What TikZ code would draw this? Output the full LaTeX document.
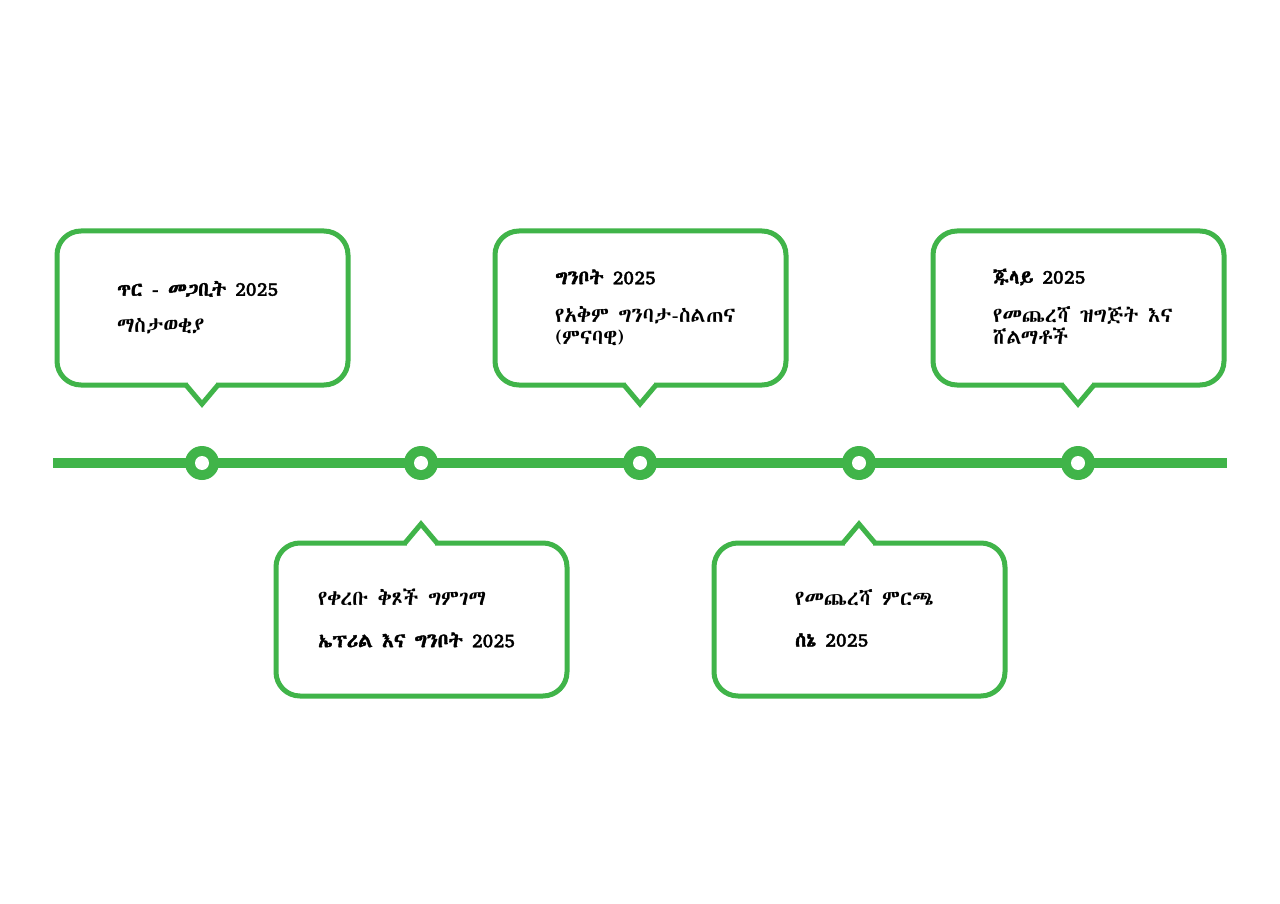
\documentclass[tikz,border=0pt]{standalone}
\usepackage{fontspec}
\IfFontExistsTF{Abyssinica SIL}{\newfontfamily\eth[AutoFakeBold=2]{Abyssinica SIL}}{%
 \IfFontExistsTF{FreeSerif}{\newfontfamily\eth[AutoFakeBold=2]{FreeSerif}}{%
  \IfFontExistsTF{FreeSans}{\newfontfamily\eth[AutoFakeBold=2]{FreeSans}}{%
   \newfontfamily\eth{DejaVu Sans}}}}
\definecolor{gr}{HTML}{40B449}
\begin{document}
\begin{tikzpicture}[x=1pt,y=-1pt,
  box/.style={draw=gr,line width=5pt,rounded corners=24pt,fill=white},
  ttl/.style={anchor=west,font=\eth\bfseries\fontsize{20}{22}\selectfont,inner sep=0},
  bdy/.style={anchor=north west,font=\eth\fontsize{21}{22}\selectfont,inner sep=0,align=left}]
\useasboundingbox (0,0) rectangle (1280,904);
\fill[white] (0,0) rectangle (1280,904);
\draw[gr,line width=10pt] (53,463) -- (1227,463);
\foreach \x in {202,421,640,859,1078}{
  \fill[gr] (\x,463) circle (17);
  \fill[white] (\x,463) circle (7);}
\foreach \x in {202,640,1078}{
  \draw[box] (\x-145,231) rectangle (\x+146,385);
  \fill[white] (\x-14,382) rectangle (\x+14,388);
  \draw[gr,line width=5pt,line join=miter] (\x-16,385) -- (\x,404) -- (\x+16,385);}
\foreach \x in {421,859}{
  \draw[box] (\x-145,543) rectangle (\x+146,696);
  \fill[white] (\x-14,540) rectangle (\x+14,546);
  \draw[gr,line width=5pt,line join=miter] (\x-16,543) -- (\x,524) -- (\x+16,543);}
\node[ttl] (t1) at (117,289) {ጥር - መጋቢት 2025};
\node[bdy] (b1) at (117,318) {ማስታወቂያ};
\node[ttl] (t3) at (555,277) {ግንቦት 2025};
\node[bdy] (b3) at (555,306) {የአቅም ግንባታ-ስልጠና\\(ምናባዊ)};
\node[ttl] (t5) at (993,277) {ጁላይ 2025};
\node[bdy] (b5) at (993,306) {የመጨረሻ ዝግጅት እና\\ሸልማቶች};
\node[bdy] (b2) at (318,589) {የቀረቡ ቅጾች ግምገማ};
\node[ttl] (t2) at (318,640) {ኤፕሪል እና ግንቦት 2025};
\node[bdy] (b4) at (795,589) {የመጨረሻ ምርጫ};
\node[ttl] (t4) at (795,640) {ሰኔ 2025};
\end{tikzpicture}
\end{document}
